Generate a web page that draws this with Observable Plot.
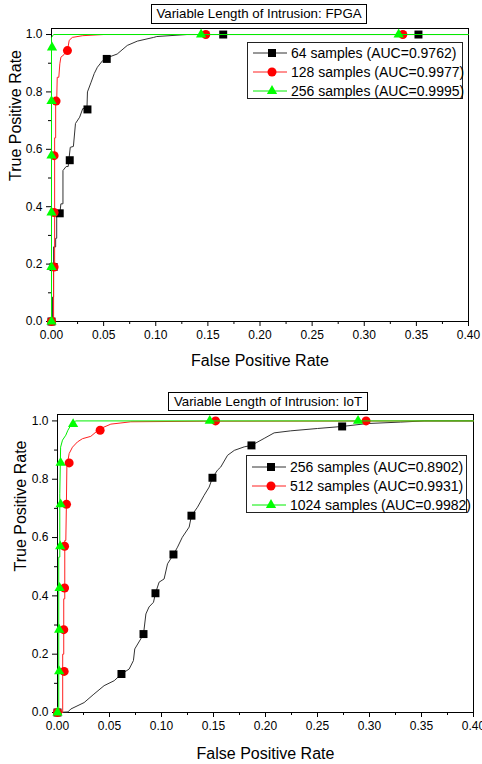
<!DOCTYPE html>
<html><head><meta charset="utf-8">
<script src="https://cdn.jsdelivr.net/npm/d3@7"></script>
<script src="https://cdn.jsdelivr.net/npm/@observablehq/plot@0.6"></script>
<style>
body{margin:0;background:#fff;font-family:"Liberation Sans",Arial,sans-serif;}
#root{position:relative;width:482px;height:764px;overflow:hidden;background:#fff;}
.title{position:absolute;border:1px solid #000;font-size:13.3px;text-align:center;box-sizing:border-box;white-space:nowrap;}
.legend{position:absolute;border:1px solid #222;box-sizing:border-box;font-size:14px;background:#fff;}
.row{position:absolute;height:19px;display:flex;align-items:center;white-space:nowrap;}
.chart{position:absolute;left:0;}
</style></head><body><div id="root"></div><script>
// ---------- shared axis ticks ----------
const xMajor = [0, 0.05, 0.10, 0.15, 0.20, 0.25, 0.30, 0.35, 0.40];
const xMinor = [0.025, 0.075, 0.125, 0.175, 0.225, 0.275, 0.325, 0.375];
const yMajor = [0, 0.2, 0.4, 0.6, 0.8, 1.0];
const yMinor = [0.1, 0.3, 0.5, 0.7, 0.9];

// ---------- chart 1: FPGA ----------
const fpgaTitle = "Variable Length of Intrusion: FPGA";
const fpgaNames = ["64 samples (AUC=0.9762)", "128 samples (AUC=0.9977)", "256 samples (AUC=0.9995)"];

const fpga64Fpr = [0,0.001,0.001,0.002,0.002,0.004,0.004,0.005,0.005,0.008,0.009,0.011,0.011,0.014,0.016,0.018,0.021,0.023,0.027,0.030,0.034,0.0345,0.038,0.041,0.044,0.049,0.054,0.063,0.0727,0.0823,0.098,0.101,0.13,0.4];
const fpga64Tpr = [0,0,0.085,0.085,0.26,0.26,0.29,0.29,0.376,0.376,0.41,0.41,0.526,0.54,0.54,0.607,0.61,0.69,0.712,0.742,0.742,0.80,0.834,0.864,0.886,0.909,0.92,0.932,0.962,0.977,0.99,0.993,1.0,1.0];
const fpga64MkFpr = [0,0.002,0.0079,0.0175,0.0345,0.053,0.1647,0.352];
const fpga64MkTpr = [0,0.19,0.377,0.562,0.739,0.915,1.0,1.0];

const fpga128Fpr = [0,0.002,0.002,0.003,0.003,0.004,0.004,0.005,0.0055,0.007,0.008,0.009,0.012,0.0153,0.017,0.02,0.03,0.05,0.4];
const fpga128Tpr = [0,0,0.178,0.19,0.64,0.64,0.77,0.77,0.851,0.851,0.898,0.921,0.93,0.944,0.98,0.99,0.996,1.0,1.0];
const fpga128MkFpr = [0,0.0025,0.0025,0.0025,0.0044,0.0153,0.148,0.337];
const fpga128MkTpr = [0,0.19,0.38,0.578,0.768,0.944,1.0,1.0];

const fpga256Fpr = [0,0,0.002,0.4];
const fpga256Tpr = [0,0.99,1.0,1.0];
const fpga256MkFpr = [0,0,0,0,0,0.0005,0.1435,0.333];
const fpga256MkTpr = [0,0.19,0.38,0.578,0.768,0.955,1.0,1.0];

// ---------- chart 2: IoT ----------
const iotTitle = "Variable Length of Intrusion: IoT";
const iotNames = ["256 samples (AUC=0.8902)", "512 samples (AUC=0.9931)", "1024 samples (AUC=0.9982)"];

const iot256Fpr = [0,0.01,0.0128,0.0256,0.035,0.0448,0.0545,0.0615,0.0689,0.073,0.0743,0.080,0.0827,0.085,0.088,0.0923,0.0942,0.0977,0.1025,0.1058,0.1115,0.1154,0.120,0.1266,0.1288,0.1346,0.141,0.1458,0.149,0.1538,0.157,0.1635,0.170,0.1795,0.1865,0.1987,0.2083,0.2243,0.25,0.2737,0.298,0.33,0.3525,0.4];
const iot256Tpr = [0,0.002,0.012,0.034,0.063,0.092,0.109,0.132,0.149,0.178,0.218,0.252,0.269,0.338,0.362,0.378,0.409,0.447,0.458,0.51,0.542,0.567,0.601,0.636,0.675,0.704,0.745,0.773,0.805,0.831,0.842,0.882,0.899,0.911,0.916,0.94,0.959,0.966,0.974,0.981,0.991,0.996,1.0,1.0];
const iot256MkFpr = [0,0.0615,0.0827,0.0942,0.1115,0.1288,0.149,0.1865,0.2737];
const iot256MkTpr = [0,0.132,0.269,0.409,0.542,0.675,0.805,0.916,0.981];

const iot512Fpr = [0,0.005,0.005,0.006,0.006,0.007,0.007,0.008,0.0085,0.009,0.0112,0.0144,0.0192,0.024,0.032,0.037,0.0416,0.0513,0.061,0.0705,0.14,0.4];
const iot512Tpr = [0,0,0.20,0.20,0.39,0.39,0.59,0.59,0.70,0.842,0.888,0.91,0.928,0.939,0.947,0.962,0.974,0.989,0.993,0.997,0.999,1.0];
const iot512MkFpr = [0,0.0064,0.006,0.0068,0.0068,0.0087,0.0112,0.041,0.152,0.2967];
const iot512MkTpr = [0,0.141,0.284,0.427,0.570,0.714,0.856,0.968,1.0,1.0];

const iot1024Fpr = [0,0.0012,0.0012,0.0022,0.0022,0.003,0.0048,0.008,0.010,0.0128,0.0176,0.4];
const iot1024Tpr = [0,0,0.533,0.533,0.75,0.91,0.934,0.951,0.968,0.985,1.0,1.0];
const iot1024MkFpr = [0,0.0016,0.0016,0.002,0.0026,0.003,0.003,0.015,0.1464,0.289];
const iot1024MkTpr = [0,0.141,0.284,0.427,0.570,0.714,0.856,0.989,1.0,1.0];

// ---------- styles ----------
const colors = ["#000000", "#ff0000", "#00ff00"];
const lineColors = ["#333333", "#ff2020", "#00ee00"];
const symbols = ["square", "circle", "triangle"];
const radii = [4.5, 4.5, 3.8];

const pts = (xs, ys) => xs.map((x, i) => ({x, y: ys[i]}));

function makeChart(cfg) {
  const {lines, markers, height, mt, mb, ml, mr, yMax, yTitleDy} = cfg;
  const marks = [
    Plot.frame({stroke: "#000", strokeWidth: 1}),
    Plot.axisX({ticks: xMajor, tickSize: 5, tickPadding: 4, tickFormat: d3.format(".2f"), fontSize: 12, label: null}),
    Plot.axisX({ticks: xMinor, tickSize: 3, tickFormat: () => "", label: null}),
    Plot.axisY({ticks: yMajor, tickSize: 5, tickPadding: 4, tickFormat: d3.format(".1f"), fontSize: 12, label: null}),
    Plot.axisY({ticks: yMinor, tickSize: 3, tickFormat: () => "", label: null}),
    Plot.text(["False Positive Rate"], {text: d => d, frameAnchor: "bottom", dy: cfg.xTitleDy, fontSize: 16, lineAnchor: "middle"}),
    Plot.text(["True Positive Rate"], {text: d => d, frameAnchor: "left", dx: cfg.yTitleDx, dy: yTitleDy, rotate: -90, fontSize: 16, lineAnchor: "middle"})
  ];
  for (let i = 0; i < 3; i++) {
    marks.push(Plot.line(lines[i], {x: "x", y: "y", stroke: lineColors[i], strokeWidth: 1}));
    marks.push(Plot.dot(markers[i], {x: "x", y: "y", symbol: symbols[i], r: radii[i], fill: colors[i], stroke: "none"}));
  }
  return Plot.plot({
    width: 482, height,
    marginTop: mt, marginBottom: mb, marginLeft: ml, marginRight: mr,
    x: {domain: [0, 0.4]},
    y: {domain: [0, yMax]},
    style: {fontFamily: "'Liberation Sans', Arial, sans-serif", fontSize: "12px", color: "#000", background: "transparent"},
    marks
  });
}

function legendRow(name, i) {
  const row = document.createElement("div");
  row.className = "row";
  const svg = d3.create("svg").attr("width", 36).attr("height", 14).style("margin-right", "2px");
  svg.append("line").attr("x1", 0).attr("x2", 34).attr("y1", 7).attr("y2", 7).attr("stroke", lineColors[i]).attr("stroke-width", 1);
  const sym = {square: d3.symbolSquare, circle: d3.symbolCircle, triangle: d3.symbolTriangle}[symbols[i]];
  svg.append("path").attr("transform", "translate(19,7)").attr("d", d3.symbol(sym, radii[i] * radii[i] * Math.PI)()).attr("fill", colors[i]);
  row.appendChild(svg.node());
  const t = document.createElement("span");
  t.textContent = name;
  row.appendChild(t);
  return row;
}

const root = document.getElementById("root");

function place(el, left, top) { el.style.left = left + "px"; el.style.top = top + "px"; root.appendChild(el); }

// chart 1
const c1 = makeChart({
  lines: [pts(fpga64Fpr, fpga64Tpr), pts(fpga128Fpr, fpga128Tpr), pts(fpga256Fpr, fpga256Tpr)],
  markers: [pts(fpga64MkFpr, fpga64MkTpr), pts(fpga128MkFpr, fpga128MkTpr), pts(fpga256MkFpr, fpga256MkTpr)],
  height: 382, mt: 28, mb: 61, ml: 51, mr: 14, yMax: 1.021, xTitleDy: 39, yTitleDx: -36, yTitleDy: 6
});
c1.classList.add("chart");
place(c1, 0, 0);

// chart 2
const c2 = makeChart({
  lines: [pts(iot256Fpr, iot256Tpr), pts(iot512Fpr, iot512Tpr), pts(iot1024Fpr, iot1024Tpr)],
  markers: [pts(iot256MkFpr, iot256MkTpr), pts(iot512MkFpr, iot512MkTpr), pts(iot1024MkFpr, iot1024MkTpr)],
  height: 382, mt: 32, mb: 52, ml: 57, mr: 9, yMax: 1.022, xTitleDy: 41, yTitleDx: -37, yTitleDy: 8
});
c2.classList.add("chart");
place(c2, 0, 382);

// titles
function title(text, left, top, width, height) {
  const d = document.createElement("div");
  d.className = "title";
  d.textContent = text;
  d.style.width = width + "px"; d.style.height = height + "px"; d.style.lineHeight = (height - 2) + "px";
  place(d, left, top);
}
title(fpgaTitle, 151, 4, 216, 20);
title(iotTitle, 168, 392, 200, 19);

// legends
function legend(names, left, top, width, height, rowTops) {
  const box = document.createElement("div");
  box.className = "legend";
  box.style.width = width + "px"; box.style.height = height + "px";
  names.forEach((n, i) => {
    const r = legendRow(n, i);
    r.style.left = "5px";
    r.style.top = (rowTops[i] - top - 10) + "px";
    box.appendChild(r);
  });
  place(box, left, top);
}
legend(fpgaNames, 247, 42, 216, 57, [52, 71, 90]);
legend(iotNames, 246, 455, 221, 58, [466, 485, 504]);
</script></body></html>
